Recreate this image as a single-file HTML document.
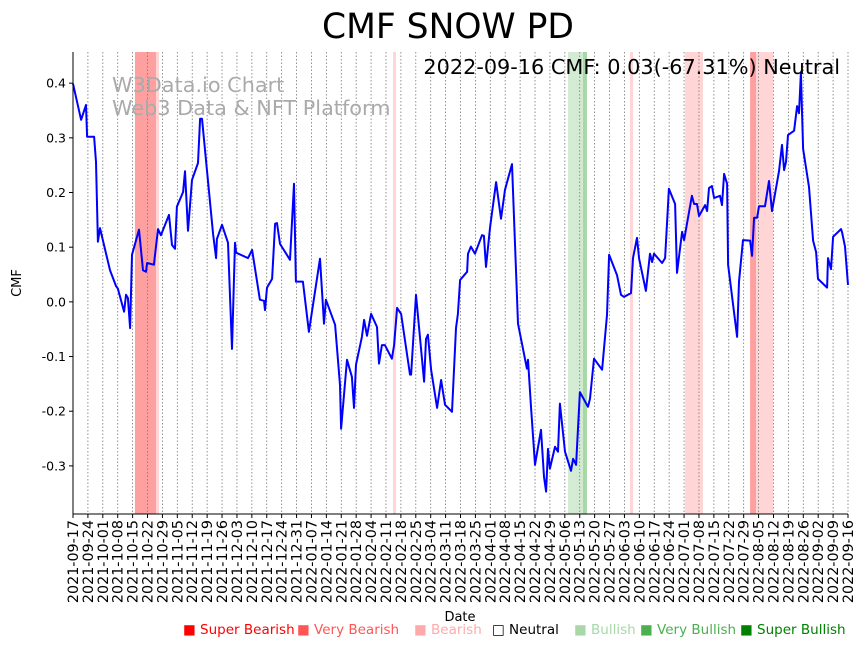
<!DOCTYPE html>
<html><head><meta charset="utf-8"><style>
body{margin:0;background:#fff;font-family:"DejaVu Sans","Liberation Sans",sans-serif;}
svg text{font-family:"DejaVu Sans","Liberation Sans",sans-serif;}
</style></head><body>
<svg id="chart" width="864" height="646" xmlns="http://www.w3.org/2000/svg">
<rect width="864" height="646" fill="#fff"/>
<g id="bands"></g>
<g id="grid"></g>
<g id="series"></g>
<g id="axes"></g>
<text x="448" y="38" font-size="34.5" text-anchor="middle">CMF SNOW PD</text>
<text x="840" y="74" font-size="20.8" text-anchor="end">2022-09-16 CMF: 0.03(-67.31%) Neutral</text>
<text x="112" y="92" font-size="20.8" fill="#aaa">W3Data.io Chart</text>
<text x="112" y="115" font-size="20.8" fill="#aaa">Web3 Data &amp; NFT Platform</text>
<text x="21" y="283" font-size="13" text-anchor="middle" transform="rotate(-90 21 283)">CMF</text>
<text x="460" y="621" font-size="13" text-anchor="middle">Date</text>
<g id="legend"></g>
</svg>
<script>
const days=[0,3.8,6.1,6.6,9.9,10.8,11.7,12.7,17.4,20.2,21.1,24.0,24.9,25.8,26.8,27.7,31.0,32.9,34.3,34.8,38.0,39.9,41.3,45.1,46.5,47.9,48.8,51.7,52.6,54.0,55.9,58.7,59.7,60.6,65.8,67.2,67.6,70.0,72.8,74.7,76.1,76.6,82.2,84.1,87.8,89.7,90.2,91.1,93.5,94.9,95.8,97.2,101.9,103.8,104.7,108.0,110.8,116.0,117.9,118.8,123.1,125.4,125.9,128.7,131.0,132.0,132.9,135.7,136.7,138.1,140.0,142.8,143.7,145.1,146.5,149.8,150.8,152.2,154.1,158.3,158.8,161.1,164.9,165.8,166.7,168.2,171.0,172.9,174.7,178.0,179.9,180.8,181.8,185.1,185.5,186.9,188.8,192.1,193.0,194.0,195.9,198.7,201.0,202.9,206.2,209.0,213.2,213.7,215.1,217.0,219.8,221.2,222.2,223.1,224.0,226.4,227.8,228.7,231.1,233.9,234.9,236.3,238.1,241.9,242.8,244.7,248.5,250.8,251.8,255.5,257.4,258.8,262.1,263.0,264.9,265.9,269.1,271.0,272.0,272.9,276.7,278.1,279.9,282.8,283.7,286.1,287.0,290.7,291.7,293.1,294.0,296.9,297.8,298.7,300.1,301.1,303.9,304.8,305.8,307.2,307.7,311.9,312.8,314.7,318.0,318.9,319.9,321.3,322.2,325.0,326.9,328.3,331.6,333.0,334.0,334.9,335.8,338.7,340.1,341.0,341.9,342.9,345.7,347.6,349.0,349.9,354.2,354.6,356.0,357.0,360.7,361.2,362.6,364];
const cmf=[.399,.333,.360,.302,.302,.256,.110,.135,.058,.029,.024,-.018,.013,.007,-.048,.086,.132,.058,.055,.071,.068,.133,.122,.159,.104,.097,.174,.201,.239,.130,.223,.254,.335,.335,.124,.080,.115,.141,.108,-.086,.108,.090,.080,.095,.004,.002,-.015,.026,.042,.143,.144,.106,.077,.216,.037,.037,-.055,.079,-.040,.004,-.042,-.152,-.232,-.106,-.137,-.194,-.115,-.064,-.033,-.062,-.022,-.046,-.113,-.079,-.079,-.104,-.079,-.011,-.022,-.133,-.133,.013,-.146,-.068,-.060,-.124,-.194,-.143,-.188,-.201,-.048,-.022,.040,.055,.088,.101,.088,.122,.121,.064,.137,.219,.152,.205,.252,-.040,-.122,-.106,-.192,-.298,-.234,-.320,-.347,-.269,-.305,-.265,-.274,-.186,-.274,-.309,-.287,-.298,-.165,-.192,-.177,-.104,-.124,-.024,.086,.049,.013,.009,.016,.080,.117,.079,.020,.088,.073,.088,.071,.080,.207,.179,.053,.128,.113,.194,.179,.179,.157,.177,.166,.208,.212,.190,.194,.177,.234,.216,.068,-.064,.037,.113,.112,.084,.154,.154,.175,.175,.221,.166,.239,.287,.241,.256,.305,.313,.358,.345,.419,.280,.210,.112,.091,.042,.026,.080,.060,.119,.133,.128,.101,.031];
const bandStart=[29.1,39,150.3,232.5,239.5,261.6,287.5,318,320.8];
const bandEnd=[39,40.4,151.7,239.5,241.4,263,295.9,320.8,328.8];
const bandLevel=["superBearish","bearish","bearish","bullish","veryBullish","bearish","bearish","superBearish","bearish"];
const yTicks=[-0.3,-0.2,-0.1,0.0,0.1,0.2,0.3,0.4];
const legendLabels=["Super Bearish","Very Bearish","Bearish","Neutral","Bullish","Very Bullish","Super Bullish"];
const legendColors=["#ff0000","#ff5555","#ffaaaa","#ffffff","#a8d8a8","#4caf50","#008000"];

const NS="http://www.w3.org/2000/svg";
const L=73,R=848,T=52,B=514,DMAX=364,VMIN=-0.388,VMAX=0.457;
const X=d=>L+(d/DMAX)*(R-L);
const Y=v=>T+(VMAX-v)/(VMAX-VMIN)*(B-T);
function mk(tag,attrs,parent){const e=document.createElementNS(NS,tag);for(const k in attrs)e.setAttribute(k,attrs[k]);parent.appendChild(e);return e;}
const bandFill={superBearish:"#ffa0a0",bearish:"#ffd5d5",bullish:"#d3ebd3",veryBullish:"#a8d8a8"};
const gB=document.getElementById('bands');
for(let i=0;i<bandStart.length;i++){
  const r=mk('rect',{x:X(bandStart[i]),y:T,width:X(bandEnd[i])-X(bandStart[i]),height:B-T,fill:bandFill[bandLevel[i]]},gB);
  
  
}
const gG=document.getElementById('grid'),gA=document.getElementById('axes');
const start=Date.UTC(2021,8,17);
for(let d=0;d<=DMAX;d+=7){
  const x=X(d);
  const gl=mk('line',{x1:x,x2:x,y1:T,y2:B,stroke:"#777","stroke-width":0.8,"stroke-dasharray":"1.5,2"},gG);
  
  
  mk('line',{x1:x,x2:x,y1:B,y2:B+4,stroke:"#000"},gA);
  const dt=new Date(start+d*86400000).toISOString().slice(0,10);
  const t=mk('text',{x:0,y:0,"font-size":14.3,"text-anchor":"end",transform:`translate(${x+5},${B+6}) rotate(-90)`},gA);
  t.textContent=dt;
  
  
}
yTicks.forEach(v=>{
  const y=Y(v);
  mk('line',{x1:L-4,x2:L,y1:y,y2:y,stroke:"#000"},gA);
  const t=mk('text',{x:L-7,y:y+4.5,"font-size":12.5,"text-anchor":"end"},gA);
  t.textContent=v.toFixed(1);
  
  
});
const ax=mk('path',{d:`M${L},${T}V${B}H${R}`,fill:"none",stroke:"#000","stroke-width":1},gA);


const line=mk('polyline',{points:days.map((d,i)=>X(d).toFixed(1)+","+Y(cmf[i]).toFixed(1)).join(" "),fill:"none",stroke:"#0000ff","stroke-width":2,"stroke-linejoin":"round"},document.getElementById('series'));


const gL=document.getElementById('legend');
const lx=[183,297,414,492,574,640,740];
legendLabels.forEach((lab,i)=>{
  const t=mk('text',{x:lx[i],y:634,"font-size":13.5,fill:i==3?"#000":legendColors[i]},gL);
  t.textContent=(i==3?"\u25A1 ":"\u25A0 ")+lab;
  
  
});
</script>
</body></html>
